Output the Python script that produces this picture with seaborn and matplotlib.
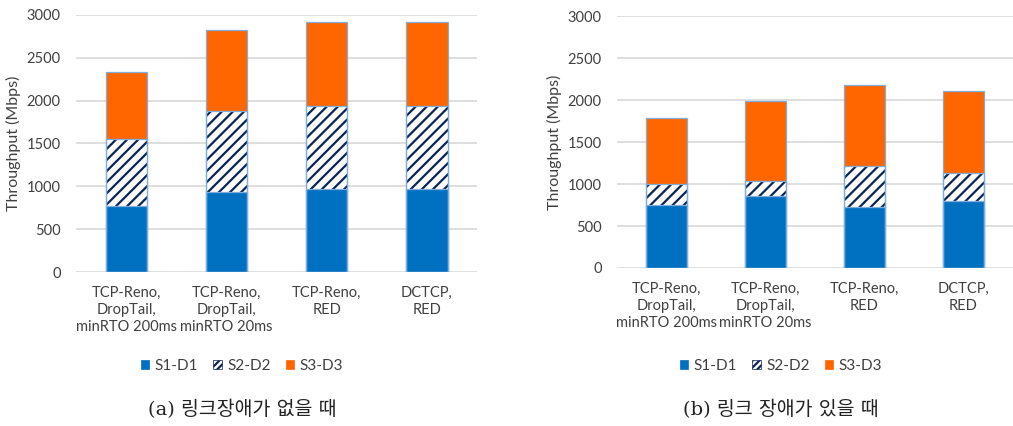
import matplotlib
matplotlib.use("Agg")
import matplotlib.pyplot as plt
from matplotlib.patches import Patch
import numpy as np
import pandas as pd
import seaborn as sns

# Test configurations (x axis)
categories = [
    "TCP-Reno,\nDropTail,\nminRTO 200ms",
    "TCP-Reno,\nDropTail,\nminRTO 20ms",
    "TCP-Reno,\nRED",
    "DCTCP,\nRED",
]
series_names = ["S1-D1", "S2-D2", "S3-D3"]

# (a) no link failure, throughput per flow (Mbps)
s1_no_fail = [770, 933, 971, 973]
s2_no_fail = [781, 951, 972, 970]
s3_no_fail = [784, 937, 979, 977]

# (b) with link failure, throughput per flow (Mbps)
s1_fail = [746, 861, 722, 802]
s2_fail = [258, 179, 488, 333]
s3_fail = [778, 948, 969, 972]

yticks = [0, 500, 1000, 1500, 2000, 2500, 3000]
captions = ["(a) 링크장애가 없을 때", "(b) 링크 장애가 있을 때"]

BLUE = "#0070C0"
ORANGE = "#FF6600"
NAVY = "#0B2458"
OUTLINE = "#7FAEDC"
TEXT = "#404040"
GRID = "#D9D9D9"

sns.set_theme(style="white")
plt.rcParams["font.family"] = ["Lato", "DejaVu Sans"]
plt.rcParams["hatch.linewidth"] = 1.6


def stacked(ax, s1, s2, s3, label_x):
    df = pd.DataFrame({"config": categories, "s1": s1, "s2": s2, "s3": s3})
    df["mid"] = df["s1"] + df["s2"]
    df["top"] = df["mid"] + df["s3"]
    common = dict(data=df, x="config", width=0.41, errorbar=None, ax=ax)
    # draw cumulative heights from the tallest down so each segment shows
    sns.barplot(y="top", color=ORANGE, saturation=1, linewidth=0, **common)
    sns.barplot(y="mid", color="white", saturation=1, hatch="///",
                edgecolor=NAVY, linewidth=0, **common)
    sns.barplot(y="s1", color=BLUE, saturation=1, linewidth=0, **common)
    # thin outlines around each segment
    for col in ["top", "mid", "s1"]:
        sns.barplot(y=col, color=OUTLINE, fill=False, linewidth=0.9, **common)

    ax.set_ylim(0, 3000)
    ax.set_xlim(-0.5, 3.5)
    ax.set_yticks(yticks)
    ax.set_yticklabels([str(v) for v in yticks])
    ax.yaxis.grid(True, color=GRID, linewidth=1.2)
    ax.set_axisbelow(True)
    for sp in ax.spines.values():
        sp.set_visible(False)
    ax.tick_params(axis="both", length=0, labelsize=10.5, colors=TEXT)
    ax.tick_params(axis="y", pad=11)
    ax.tick_params(axis="x", pad=10)
    for lab in ax.get_xticklabels():
        lab.set_linespacing(1.3)
    ax.set_xlabel("")
    ax.set_ylabel("Throughput (Mbps)", fontsize=11.5, color=TEXT)
    ax.yaxis.set_label_coords(label_x, 0.5)


fig = plt.figure(figsize=(10.13, 4.26), dpi=100)
ax_a = fig.add_axes([0.075, 0.3615, 0.396, 0.6033])
ax_b = fig.add_axes([0.6091, 0.3709, 0.3909, 0.5915])

stacked(ax_a, s1_no_fail, s2_no_fail, s3_no_fail, -0.136)
stacked(ax_b, s1_fail, s2_fail, s3_fail, -0.138)

handles = [
    Patch(facecolor=BLUE, edgecolor=BLUE, linewidth=0.5),
    Patch(facecolor="white", edgecolor=NAVY, hatch="/////", linewidth=0.5),
    Patch(facecolor=ORANGE, edgecolor=ORANGE, linewidth=0.5),
]
for xc, cap in zip([0.239, 0.771], captions):
    leg = fig.legend(handles, series_names, loc="center", bbox_to_anchor=(xc, 0.141),
                     ncol=3, frameon=False, fontsize=11, handlelength=0.55,
                     handleheight=0.55, handletextpad=0.35, columnspacing=1.0)
    for t in leg.get_texts():
        t.set_color(TEXT)
    fig.text(xc, 0.038, cap, ha="center", va="center", fontsize=14, color="#222222",
             family=["DejaVu Serif", "Noto Sans CJK KR"])

fig.savefig("out.png", dpi=100)
